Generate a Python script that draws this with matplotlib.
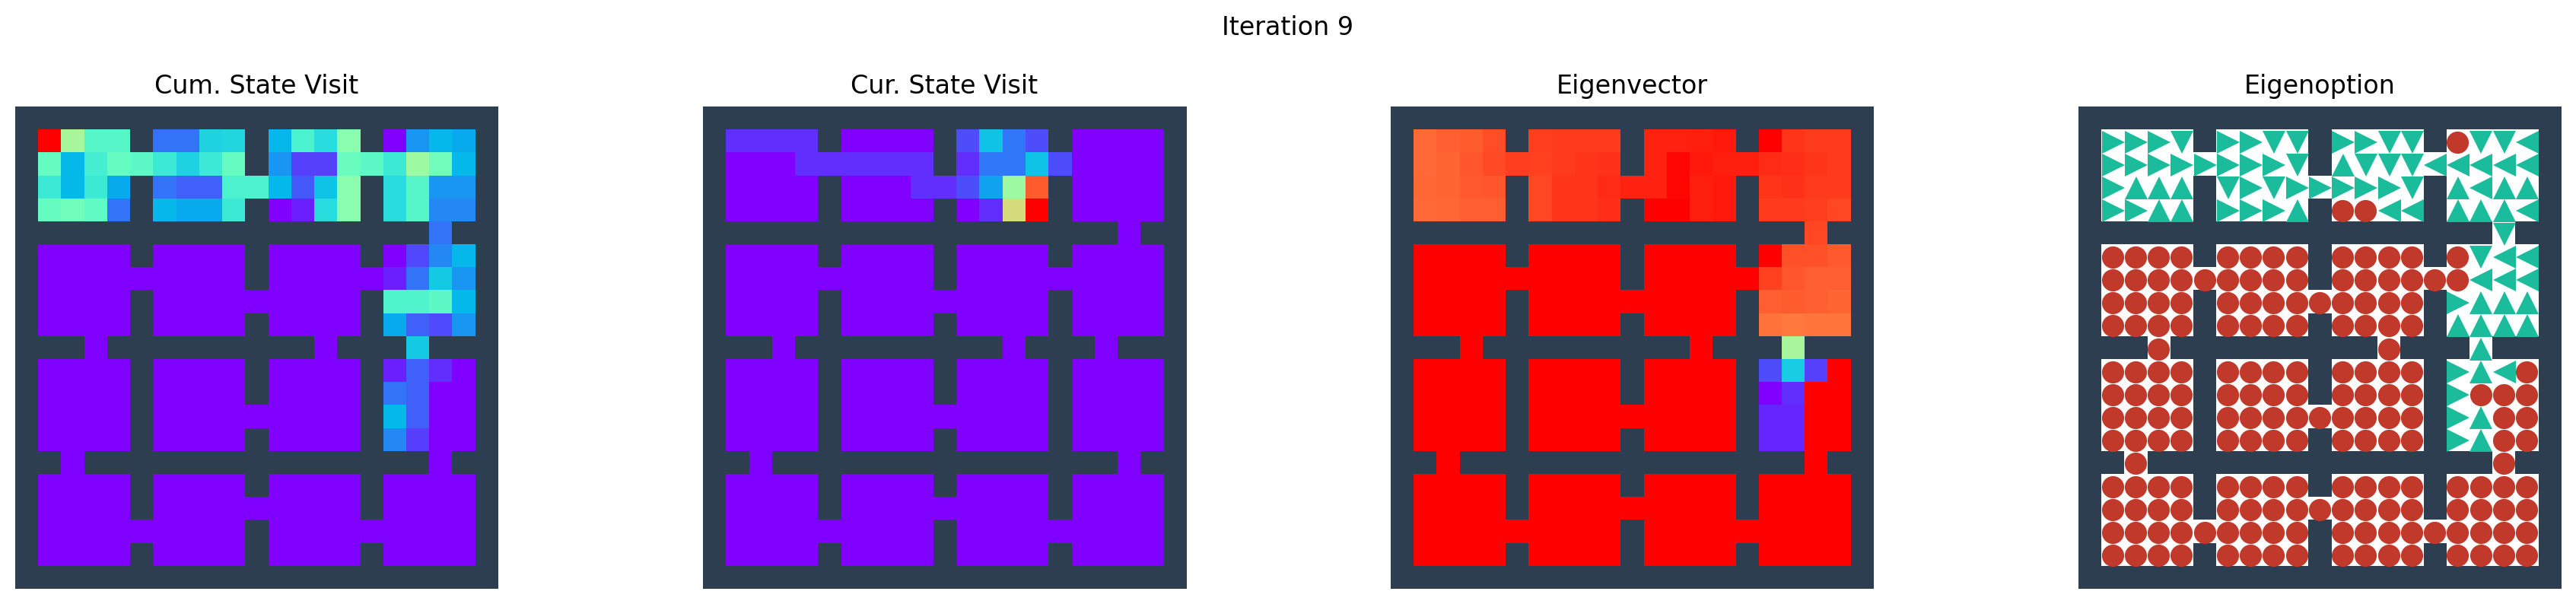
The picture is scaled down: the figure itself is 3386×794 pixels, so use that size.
import numpy as np
import matplotlib.pyplot as plt

# ------------------------------------------------------
# INPUTS
# ------------------------------------------------------

WALL = '#2c3e50'
TEAL = '#1abc9c'
RED = '#c0392b'

titles = ['Cum. State Visit', 'Cur. State Visit', 'Eigenvector', 'Eigenoption']

# Action per cell, X is a wall, o is terminate
actions = [
    'XXXXXXXXXXXXXXXXXXXXX',
    'X>>>vX>>vvX>>vvXovv<X',
    'X>>>>>>>>vX^vvv<<<<<X',
    'X>^^^Xv>v>>>>>vX^<^^X',
    'X>>^^X>>>^Xoo<<X^^^<X',
    'XXXXXXXXXXXXXXXXXXvXX',
    'XooooXooooXooooXov<<X',
    'XoooooooooXoooooo<<<X',
    'XooooXoooooooooX>^^^X',
    'XooooXooooXooooX^^^^X',
    'XXXoXXXXXXXXXoXXX^XXX',
    'XooooXooooXooooX>^<oX',
    'XooooXooooXooooX>oooX',
    'XooooXoooooooooX>^ooX',
    'XooooXooooXooooX>^ooX',
    'XXoXXXXXXXXXXXXXXXoXX',
    'XooooXooooXooooXooooX',
    'XooooXoooooooooXooooX',
    'XoooooooooXoooooooooX',
    'XooooXooooXooooXooooX',
    'XXXXXXXXXXXXXXXXXXXXX',
]

# Values on the colour scale, as (row, first column, values)
cum_visit = [
    (1, 1, [1.0, .58, .42, .42]), (1, 6, [.15, .15, .31, .32]), (1, 11, [.26, .40, .33, .52]), (1, 16, [0, .20, .26, .235]),
    (2, 1, [.45, .26, .39, .45, .43, .37, .31, .37, .45]), (2, 11, [.20, .085, .085, .46, .43, .37, .56, .47, .26]),
    (3, 1, [.37, .26, .37, .235]), (3, 6, [.15, .125, .125, .40, .40, .26, .115, .28, .52]), (3, 16, [.33, .42, .20, .20]),
    (4, 1, [.45, .47, .44, .15]), (4, 6, [.26, .235, .235, .37]), (4, 11, [0, .04, .33, .52]), (4, 16, [.33, .42, .18, .18]),
    (5, 18, [.15]),
    (6, 16, [0, .09, .18, .26]),
    (7, 16, [.04, .15, .29, .20]),
    (8, 16, [.41, .41, .43, .26]),
    (9, 16, [.235, .125, .095, .20]),
    (10, 17, [.29]),
    (11, 16, [.04, .125, .06, 0]),
    (12, 16, [.15, .125, 0, 0]),
    (13, 16, [.26, .125, 0, 0]),
    (14, 16, [.18, .08, 0, 0]),
]
cur_visit = [
    (1, 1, [.06, .06, .06, .06]), (1, 11, [.10, .28, .16, .10]),
    (2, 4, [.06, .06, .06, .06, .06, .06]), (2, 11, [.06, .16, .16, .28, .10]),
    (3, 9, [.06, .06, .10, .22, .56, .88]),
    (4, 11, [0, .06, .67, 1.0]),
]
eigenvector = [
    (1, 1, [.86, .875, .88, .90]), (1, 6, [.92, .925, .925, .925]), (1, 11, [.955, .955, .96, .965]), (1, 16, [1.0, .93, .925, .925]),
    (2, 1, [.86, .87, .89, .905, .92, .915, .925, .93, .935]), (2, 11, [.955, .99, .965, .96, .96, .945, .94, .93, .925]),
    (3, 1, [.865, .87, .885, .89]), (3, 6, [.91, .93, .93, .945, .955, .955, .99, .96, .965]), (3, 16, [.93, .935, .925, .925]),
    (4, 1, [.86, .865, .875, .875]), (4, 6, [.91, .93, .93, .94]), (4, 11, [1.0, 1.0, .96, .965]), (4, 16, [.925, .925, .92, .91]),
    (5, 18, [.91]),
    (6, 16, [1.0, .895, .895, .885]),
    (7, 16, [.915, .89, .875, .875]),
    (8, 16, [.875, .88, .875, .87]),
    (9, 16, [.85, .84, .845, .845]),
    (10, 17, [.58]),
    (11, 16, [.10, .30, .085, 1.0]),
    (12, 16, [0, .06, 1.0, 1.0]),
    (13, 16, [.05, .05, 1.0, 1.0]),
    (14, 16, [.05, .05, 1.0, 1.0]),
]

# ------------------------------------------------------
# DEFINE FUNCTIONS
# ------------------------------------------------------

def make_grid(cells, fill):
    grid = np.full((21, 21), float(fill))
    for row, col, vals in cells:
        grid[row, col:col+len(vals)] = vals
    # walls come out as the bad colour
    for r, line in enumerate(actions):
        for c, ch in enumerate(line):
            if ch == 'X':
                grid[r, c] = np.nan
    return grid

# ------------------------------------------------------
# OUTPUTS
# ------------------------------------------------------

cmap = plt.get_cmap('rainbow').copy()
cmap.set_bad(WALL)

fig = plt.figure(figsize=(3386/200, 794/200), dpi=200)
fig.suptitle('Iteration 9', fontsize=12, y=0.9535, va='center')

lefts = [20, 924, 1828, 2732]
for i, title in enumerate(titles):
    ax = fig.add_axes([lefts[i]/3386, 1-774/794, 635/3386, 634/794])
    if i < 3:
        cells = [cum_visit, cur_visit, eigenvector][i]
        ax.imshow(make_grid(cells, 1 if i == 2 else 0), cmap=cmap, vmin=0, vmax=1,
                  interpolation='nearest', aspect='auto')
    else:
        wall = np.array([[np.nan if ch == 'X' else 1.0 for ch in line] for line in actions])
        bg = plt.get_cmap('gray').copy()
        bg.set_bad(WALL)
        ax.imshow(wall, cmap=bg, vmin=0, vmax=1, interpolation='nearest', aspect='auto')
        for r, line in enumerate(actions):
            for c, ch in enumerate(line):
                if ch == 'o':
                    ax.plot(c-0.02, r+0.05, 'o', color=RED, ms=10.5, mew=0)
                elif ch != 'X':
                    ax.plot(c+0.01, r+0.05, ch, color=TEAL, ms=11, mew=0)
        ax.set_xlim(-0.5, 20.5)
        ax.set_ylim(20.5, -0.5)
    ax.set_title(title, fontsize=12)
    ax.axis('off')

fig.savefig('out.png', dpi=200)
